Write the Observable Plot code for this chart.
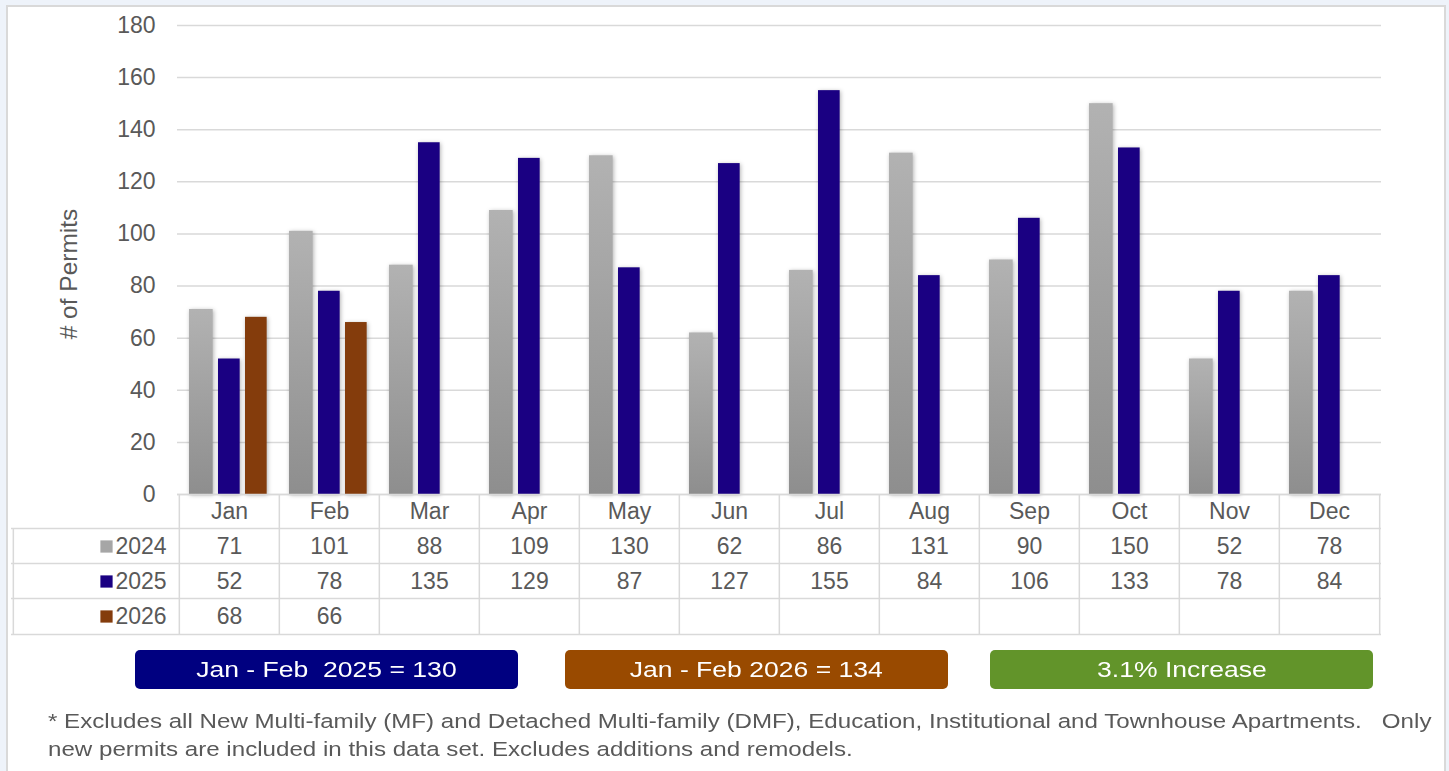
<!DOCTYPE html>
<html><head><meta charset="utf-8">
<script src="https://cdn.jsdelivr.net/npm/d3@7"></script>
<script src="https://cdn.jsdelivr.net/npm/@observablehq/plot@0.6"></script>
<style>
html,body{margin:0;padding:0;background:#EEF3FA;width:1449px;height:771px;overflow:hidden;font-family:"Liberation Sans",Arial,sans-serif;}
#panel{position:absolute;left:6px;top:5px;width:1440px;height:800px;background:#fff;border:2px solid #D9D9D9;box-sizing:border-box;}
#chart{position:absolute;left:0;top:0;}
.box{position:absolute;top:650px;height:39px;border-radius:5px;color:#fff;font-size:22.5px;line-height:39px;text-align:center;white-space:pre;}
.box span{display:inline-block;transform:scaleX(1.18);}
#note{position:absolute;left:48px;top:707px;font-size:20.5px;line-height:28px;color:#595959;white-space:pre;transform:scaleX(1.177);transform-origin:0 0;}
</style></head><body>
<div id="panel"></div>
<div id="chart"></div>
<div id="boxes"></div>
<div id="note"></div>
<script>
const months = ["Jan","Feb","Mar","Apr","May","Jun","Jul","Aug","Sep","Oct","Nov","Dec"];
const seriesNames = ["2024","2025","2026"];
const values2024 = [71,101,88,109,130,62,86,131,90,150,52,78];
const values2025 = [52,78,135,129,87,127,155,84,106,133,78,84];
const values2026 = [68,66];
const yTicks = [0,20,40,60,80,100,120,140,160,180];
const yLabel = "# of Permits";
const summaryTexts = ["Jan - Feb  2025 = 130","Jan - Feb 2026 = 134","3.1% Increase"];
const noteLines = ["* Excludes all New Multi-family (MF) and Detached Multi-family (DMF), Education, Institutional and Townhouse Apartments.   Only",
  "new permits are included in this data set. Excludes additions and remodels."];

const colors = {"2024":"url(#grayGrad)","2025":"#1A0082","2026":"#843C0C"};
const legendColors = {"2024":"#A6A6A6","2025":"#1A0082","2026":"#843C0C"};
const boxColors = ["#000080","#994A00","#62942A"];

const rows = (vals) => vals.map((v,i)=>({month:months[i], value:v}));
const r2024 = rows(values2024), r2025 = rows(values2025), r2026 = rows(values2026);

const W = 1449, H = 640, mL = 177, mR = 68, mT = 25, mB = 146;
const bw = (W - mL - mR) / months.length;
const frameH = H - mT - mB;
const rowDy = [17, 52, 87, 122];
const lineDy = [34, 69, 104, 140];
const txt = {fill:"#595959", fontSize:23, fontFamily:"Liberation Sans, Arial, sans-serif", lineAnchor:"middle"};
const gridC = "#D9D9D9";

const marks = [
  Plot.gridY(yTicks, {stroke:gridC, strokeOpacity:1, strokeWidth:1.5}),
  Plot.axisY(yTicks, {tickSize:0, tickPadding:22, fontSize:23, color:"#595959", label:null}),
  Plot.text([yLabel], {frameAnchor:"left", text:d=>d, rotate:-90, textAnchor:"middle", dx:-108, dy:14, ...txt, fontSize:24.5}),
  Plot.barY(r2024, {x:"month", y:"value", fill:colors["2024"], insetLeft:10, insetRight:bw-34}),
  Plot.barY(r2025, {x:"month", y:"value", fill:colors["2025"], insetLeft:39, insetRight:bw-61}),
  Plot.barY(r2026, {x:"month", y:"value", fill:colors["2026"], insetLeft:66, insetRight:bw-88}),
  // table lines
  Plot.ruleY([0], {stroke:gridC, strokeWidth:1.5}),
  ...lineDy.map(dy => Plot.ruleY([0], {dy, insetLeft:-166, stroke:gridC, strokeWidth:1.5})),
  Plot.ruleX(months, {x:d=>d, dx:-bw/2, insetTop:frameH, insetBottom:-140, stroke:gridC, strokeWidth:1.5}),
  Plot.ruleX([months[months.length-1]], {x:d=>d, dx:bw/2, insetTop:frameH, insetBottom:-140, stroke:gridC, strokeWidth:1.5}),
  Plot.ruleX([months[0]], {x:d=>d, dx:-bw/2-166, insetTop:frameH+34, insetBottom:-140, stroke:gridC, strokeWidth:1.5}),
  // table header & values
  Plot.text(months, {x:d=>d, text:d=>d, frameAnchor:"bottom", dy:rowDy[0], ...txt}),
  Plot.text(r2024, {x:"month", text:"value", frameAnchor:"bottom", dy:rowDy[1], ...txt}),
  Plot.text(r2025, {x:"month", text:"value", frameAnchor:"bottom", dy:rowDy[2], ...txt}),
  Plot.text(r2026, {x:"month", text:"value", frameAnchor:"bottom", dy:rowDy[3], ...txt}),
  // row labels and legend squares
  ...seriesNames.map((s,i) => Plot.text([s], {frameAnchor:"bottom-left", text:d=>d, textAnchor:"start", dx:-62, dy:rowDy[i+1], ...txt})),
  ...seriesNames.map((s,i) => Plot.dot([s], {frameAnchor:"bottom-left", symbol:"square", r:6.9, fill:legendColors[s], stroke:"none", dx:-71, dy:rowDy[i+1]}))
];

const chart = Plot.plot({
  width: W, height: H,
  marginLeft: mL, marginRight: mR, marginTop: mT, marginBottom: mB,
  style: {background:"transparent", fontFamily:"Liberation Sans, Arial, sans-serif", overflow:"visible"},
  x: {domain: months, padding: 0, axis: null},
  y: {domain: [0, 180], axis: null},
  marks
});

const svg = d3.select(chart);
svg.insert("defs", ":first-child").html(`
  <linearGradient id="grayGrad" x1="0" y1="0" x2="0" y2="1">
    <stop offset="0" stop-color="#B2B2B2"/>
    <stop offset="1" stop-color="#8E8E8E"/>
  </linearGradient>`);
svg.selectAll('g[aria-label="bar"]').style("filter","drop-shadow(1px 1px 2px rgba(0,0,0,0.3))");
document.getElementById("chart").appendChild(chart);

const boxPos = [[135,383],[565,383],[990,383]];
const boxes = d3.select("#boxes");
summaryTexts.forEach((t,i)=>{
  boxes.append("div").attr("class","box")
    .style("left", boxPos[i][0]+"px").style("width", boxPos[i][1]+"px")
    .style("background", boxColors[i]).append("span").text(t);
});
d3.select("#note").text(noteLines.join("\n"));
</script>
</body></html>
